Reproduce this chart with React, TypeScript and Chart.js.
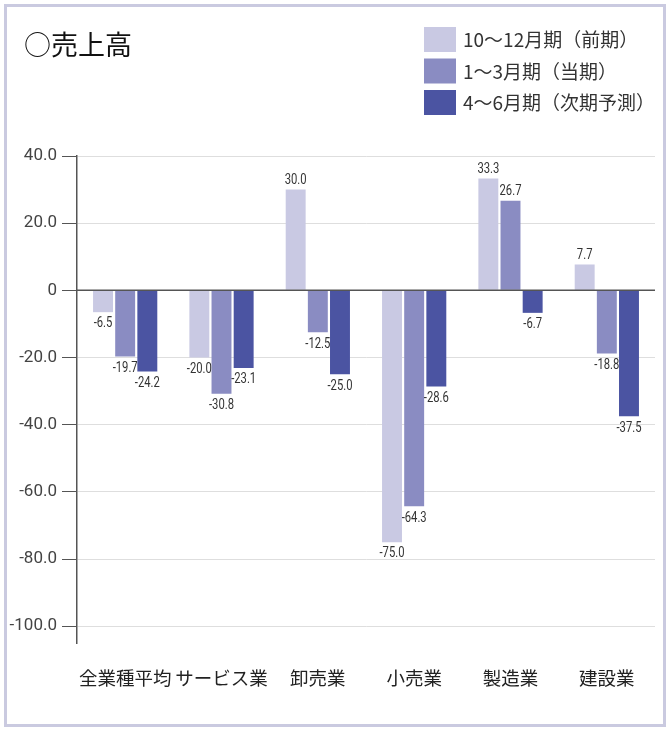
import React, { useEffect, useRef } from "react";
import { Chart, registerables } from "chart.js";

Chart.register(...registerables);

// ---- data ----
const title = "○売上高";
const categories = ["全業種平均", "サービス業", "卸売業", "小売業", "製造業", "建設業"];
const seriesLabels = ["10～12月期（前期）", "1～3月期（当期）", "4～6月期（次期予測）"];
const prevValues = [-6.5, -20.0, 30.0, -75.0, 33.3, 7.7];
const currValues = [-19.7, -30.8, -12.5, -64.3, 26.7, -18.8];
const nextValues = [-24.2, -23.1, -25.0, -28.6, -6.7, -37.5];
const yTicks = [40, 20, 0, -20, -40, -60, -80, -100];

const seriesColors = ["#c9c9e3", "#8a8cc2", "#4b54a2"];
const NUM_FONT = "'Roboto', sans-serif";
const JP_FONT = "'Noto Sans CJK JP', sans-serif";

const decorPlugin = {
  id: "decor",
  beforeDraw(chart: any) {
    const ctx = chart.ctx;
    ctx.save();
    ctx.fillStyle = "#ffffff";
    ctx.fillRect(0, 0, chart.width, chart.height);
    ctx.strokeStyle = "#cacae0";
    ctx.lineWidth = 3;
    ctx.strokeRect(5.5, 5.5, 659, 720);
    ctx.restore();
  },
  afterDatasetsDraw(chart: any) {
    const ctx = chart.ctx;
    const { left, right } = chart.chartArea;
    const y0 = chart.scales.y.getPixelForValue(0);
    ctx.save();
    ctx.strokeStyle = "#555";
    ctx.lineWidth = 1.5;
    ctx.beginPath();
    ctx.moveTo(left, y0);
    ctx.lineTo(right, y0);
    ctx.stroke();

    ctx.font = `15px ${NUM_FONT}`;
    ctx.fillStyle = "#333";
    ctx.textAlign = "center";
    chart.data.datasets.forEach((ds: any, i: number) => {
      const meta = chart.getDatasetMeta(i);
      meta.data.forEach((bar: any, j: number) => {
        const v = ds.data[j] as number;
        const txt = v.toFixed(1);
        ctx.save();
        if (v >= 0) {
          ctx.textBaseline = "bottom";
          ctx.translate(bar.x, bar.y - 2);
        } else {
          ctx.textBaseline = "top";
          ctx.translate(bar.x, bar.y + 4);
        }
        ctx.scale(0.75, 1);
        ctx.fillText(txt, 0, 0);
        ctx.restore();
      });
    });
    ctx.restore();
  },
  afterDraw(chart: any) {
    const ctx = chart.ctx;
    ctx.save();
    ctx.textAlign = "left";
    ctx.textBaseline = "middle";
    ctx.fillStyle = "#111";
    ctx.font = `27px ${JP_FONT}`;
    ctx.fillText(title, 24, 45);
    chart.data.datasets.forEach((ds: any, i: number) => {
      const y = 27 + i * 31.5;
      ctx.fillStyle = ds.backgroundColor;
      ctx.fillRect(424, y, 32, 25);
      ctx.fillStyle = "#333";
      ctx.font = `19px ${JP_FONT}`;
      ctx.fillText(ds.label, 463, y + 13);
    });
    ctx.restore();
  },
};

export default function App() {
  const canvasRef = useRef<HTMLCanvasElement | null>(null);

  useEffect(() => {
    document.body.style.margin = "0";
    const canvas = canvasRef.current;
    if (!canvas) return;
    const chart = new Chart(canvas, {
      type: "bar",
      data: {
        labels: categories,
        datasets: [
          { label: seriesLabels[0], data: prevValues, backgroundColor: seriesColors[0] },
          { label: seriesLabels[1], data: currValues, backgroundColor: seriesColors[1] },
          { label: seriesLabels[2], data: nextValues, backgroundColor: seriesColors[2] },
        ],
      },
      options: {
        responsive: false,
        animation: false,
        devicePixelRatio: 1,
        layout: { padding: { top: 156, right: 17, left: 0, bottom: 0 } },
        datasets: {
          bar: { categoryPercentage: 0.69, barPercentage: 0.9 },
        },
        plugins: {
          legend: { display: false },
          title: { display: false },
          tooltip: { enabled: false },
        },
        scales: {
          x: {
            grid: { display: false, drawTicks: false },
            border: { display: false },
            ticks: {
              padding: 24,
              color: "#222",
              font: { family: JP_FONT, size: 18.5 },
              maxRotation: 0,
              autoSkip: false,
            },
            afterFit(scale: any) {
              scale.height = 87;
            },
          },
          y: {
            min: -105,
            max: 40,
            afterBuildTicks(scale: any) {
              scale.ticks = yTicks.map((v) => ({ value: v }));
            },
            afterFit(scale: any) {
              scale.width = 77;
            },
            grid: {
              color: (c: any) => (c.tick && c.tick.value === 0 ? "rgba(0,0,0,0)" : "#dedede"),
              tickColor: "#555",
              tickLength: 15,
              lineWidth: 1,
            },
            border: { display: true, color: "#555", width: 1.5 },
            ticks: {
              padding: 5,
              color: "#444",
              font: { family: NUM_FONT, size: 17 },
              callback: (v: any) => (Number(v) === 0 ? "0" : Number(v).toFixed(1)),
            },
          },
        },
      },
      plugins: [decorPlugin],
    } as any);
    return () => chart.destroy();
  }, []);

  return (
    <div style={{ width: 672, height: 730, position: "relative" }}>
      <canvas ref={canvasRef} width={672} height={730} style={{ display: "block" }} />
    </div>
  );
}
